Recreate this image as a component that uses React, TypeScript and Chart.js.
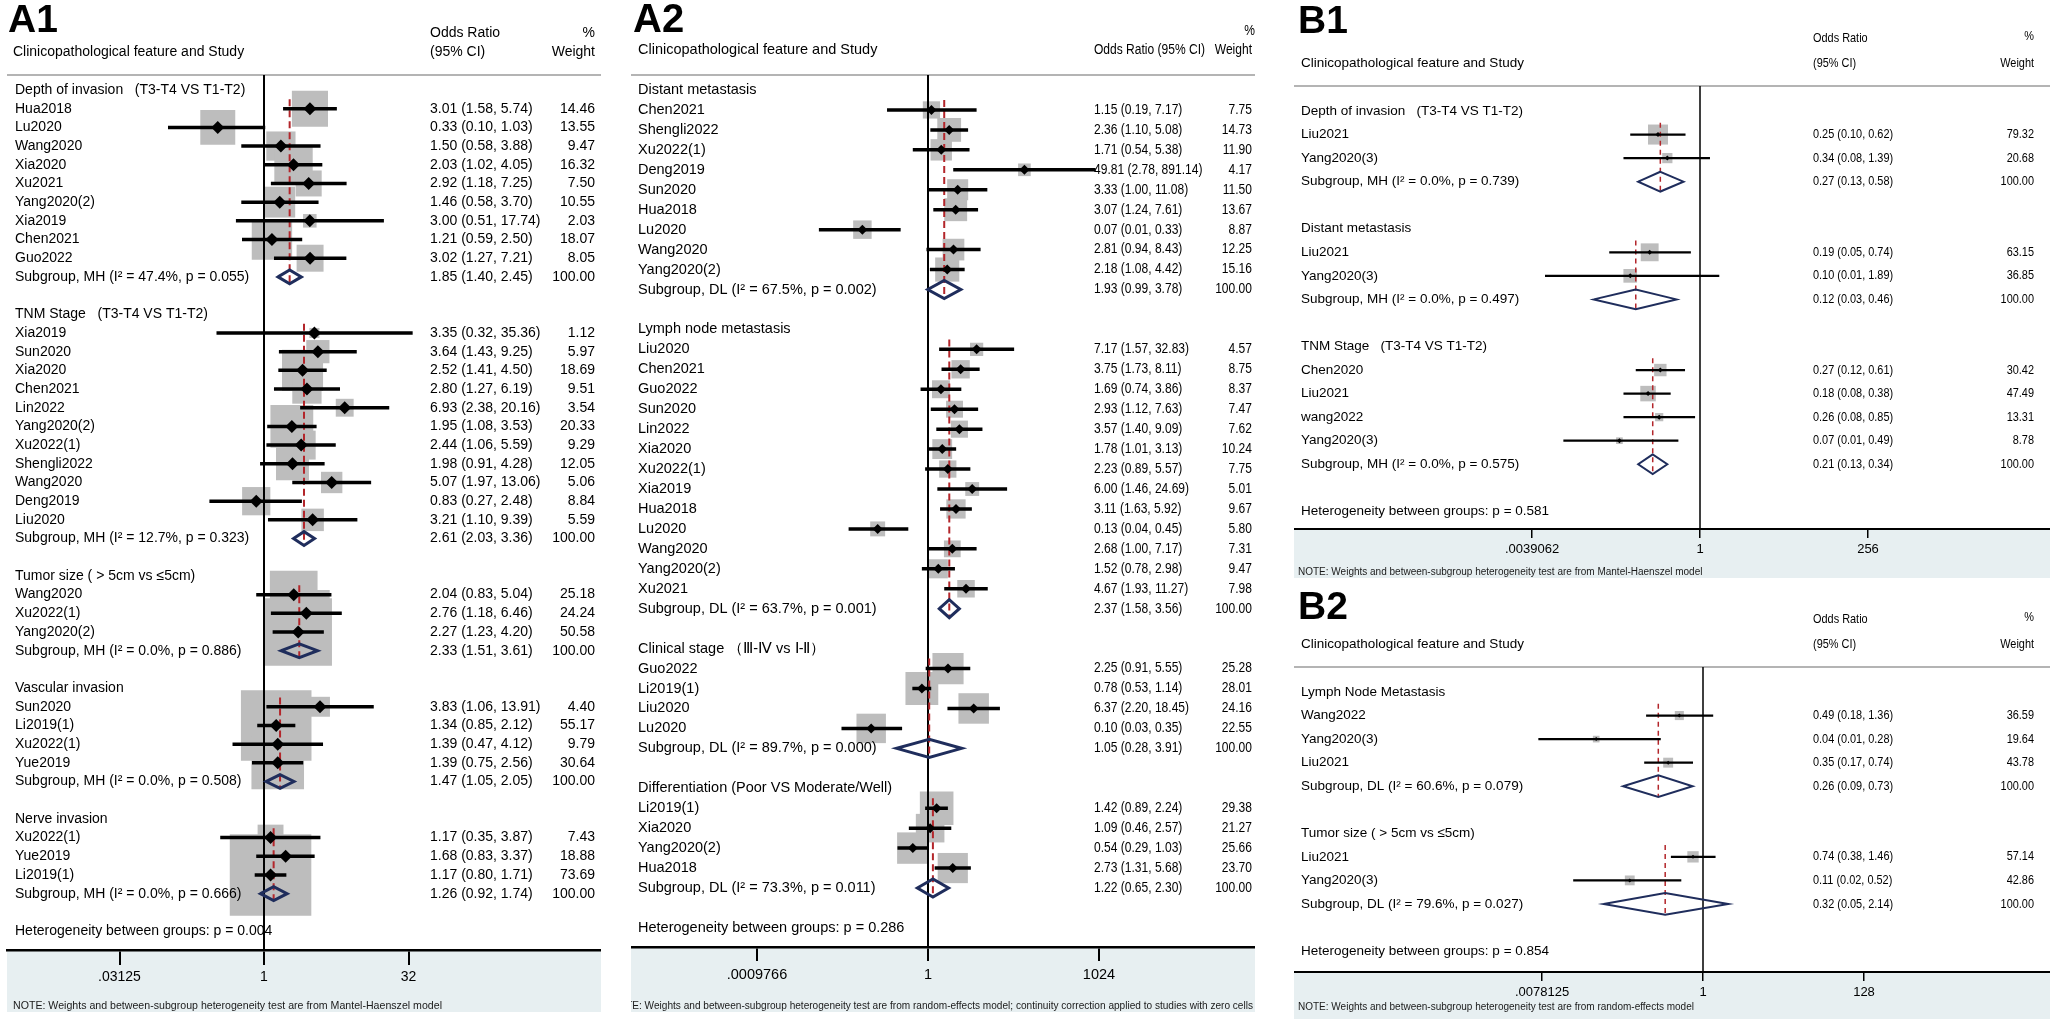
import React, { useEffect, useRef } from 'react';
import { Chart, registerables } from 'chart.js';

Chart.register(...registerables);

const FONT = '"Liberation Sans", Arial, Helvetica, sans-serif';
const BOX = '#bdbdbd';
const RED = '#b3262b';
const NAVY = '#1f2d5c';
const STRIP = '#e7eff1';
const SEP = '#b4b4b4';

// ---------------- A1 ----------------
const A1_HEAD = ['Clinicopathological feature and Study', 'Odds Ratio', '(95% CI)', '%', 'Weight'];
const A1_GROUPS = ['Depth of invasion   (T3-T4 VS T1-T2)', 'TNM Stage   (T3-T4 VS T1-T2)', 'Tumor size ( > 5cm vs ≤5cm)', 'Vascular invasion', 'Nerve invasion'];
const A1_STUDIES = [
  ['Hua2018', 'Lu2020', 'Wang2020', 'Xia2020', 'Xu2021', 'Yang2020(2)', 'Xia2019', 'Chen2021', 'Guo2022'],
  ['Xia2019', 'Sun2020', 'Xia2020', 'Chen2021', 'Lin2022', 'Yang2020(2)', 'Xu2022(1)', 'Shengli2022', 'Wang2020', 'Deng2019', 'Liu2020'],
  ['Wang2020', 'Xu2022(1)', 'Yang2020(2)'],
  ['Sun2020', 'Li2019(1)', 'Xu2022(1)', 'Yue2019'],
  ['Xu2022(1)', 'Yue2019', 'Li2019(1)'],
];
const A1_OR = [
  [3.01, 0.33, 1.50, 2.03, 2.92, 1.46, 3.00, 1.21, 3.02],
  [3.35, 3.64, 2.52, 2.80, 6.93, 1.95, 2.44, 1.98, 5.07, 0.83, 3.21],
  [2.04, 2.76, 2.27],
  [3.83, 1.34, 1.39, 1.39],
  [1.17, 1.68, 1.17],
];
const A1_LO = [
  [1.58, 0.10, 0.58, 1.02, 1.18, 0.58, 0.51, 0.59, 1.27],
  [0.32, 1.43, 1.41, 1.27, 2.38, 1.08, 1.06, 0.91, 1.97, 0.27, 1.10],
  [0.83, 1.18, 1.23],
  [1.06, 0.85, 0.47, 0.75],
  [0.35, 0.83, 0.80],
];
const A1_HI = [
  [5.74, 1.03, 3.88, 4.05, 7.25, 3.70, 17.74, 2.50, 7.21],
  [35.36, 9.25, 4.50, 6.19, 20.16, 3.53, 5.59, 4.28, 13.06, 2.48, 9.39],
  [5.04, 6.46, 4.20],
  [13.91, 2.12, 4.12, 2.56],
  [3.87, 3.37, 1.71],
];
const A1_W = [
  [14.46, 13.55, 9.47, 16.32, 7.50, 10.55, 2.03, 18.07, 8.05],
  [1.12, 5.97, 18.69, 9.51, 3.54, 20.33, 9.29, 12.05, 5.06, 8.84, 5.59],
  [25.18, 24.24, 50.58],
  [4.40, 55.17, 9.79, 30.64],
  [7.43, 18.88, 73.69],
];
const A1_SUB_LABELS = [
  'Subgroup, MH (I² = 47.4%, p = 0.055)',
  'Subgroup, MH (I² = 12.7%, p = 0.323)',
  'Subgroup, MH (I² = 0.0%, p = 0.886)',
  'Subgroup, MH (I² = 0.0%, p = 0.508)',
  'Subgroup, MH (I² = 0.0%, p = 0.666)',
];
const A1_SUB_OR = [1.85, 2.61, 2.33, 1.47, 1.26];
const A1_SUB_LO = [1.40, 2.03, 1.51, 1.05, 0.92];
const A1_SUB_HI = [2.45, 3.36, 3.61, 2.05, 1.74];
const A1_HET = 'Heterogeneity between groups: p = 0.004';
const A1_TICKS = [0.03125, 1, 32];
const A1_TICK_LABELS = ['.03125', '1', '32'];
const A1_NOTE = 'NOTE: Weights and between-subgroup heterogeneity test are from Mantel-Haenszel model';

// ---------------- A2 ----------------
const A2_HEAD = ['Clinicopathological feature and Study', 'Odds Ratio (95% CI)', '', '%', 'Weight'];
const A2_GROUPS = ['Distant metastasis', 'Lymph node metastasis', 'Clinical stage （Ⅲ-Ⅳ vs Ⅰ-Ⅱ）', 'Differentiation (Poor VS Moderate/Well)'];
const A2_STUDIES = [
  ['Chen2021', 'Shengli2022', 'Xu2022(1)', 'Deng2019', 'Sun2020', 'Hua2018', 'Lu2020', 'Wang2020', 'Yang2020(2)'],
  ['Liu2020', 'Chen2021', 'Guo2022', 'Sun2020', 'Lin2022', 'Xia2020', 'Xu2022(1)', 'Xia2019', 'Hua2018', 'Lu2020', 'Wang2020', 'Yang2020(2)', 'Xu2021'],
  ['Guo2022', 'Li2019(1)', 'Liu2020', 'Lu2020'],
  ['Li2019(1)', 'Xia2020', 'Yang2020(2)', 'Hua2018'],
];
const A2_OR = [
  [1.15, 2.36, 1.71, 49.81, 3.33, 3.07, 0.07, 2.81, 2.18],
  [7.17, 3.75, 1.69, 2.93, 3.57, 1.78, 2.23, 6.00, 3.11, 0.13, 2.68, 1.52, 4.67],
  [2.25, 0.78, 6.37, 0.10],
  [1.42, 1.09, 0.54, 2.73],
];
const A2_LO = [
  [0.19, 1.10, 0.54, 2.78, 1.00, 1.24, 0.012, 0.94, 1.08],
  [1.57, 1.73, 0.74, 1.12, 1.40, 1.01, 0.89, 1.46, 1.63, 0.04, 1.00, 0.78, 1.93],
  [0.91, 0.53, 2.20, 0.03],
  [0.89, 0.46, 0.29, 1.31],
];
const A2_HI = [
  [7.17, 5.08, 5.38, 891.14, 11.08, 7.61, 0.33, 8.43, 4.42],
  [32.83, 8.11, 3.86, 7.63, 9.09, 3.13, 5.57, 24.69, 5.92, 0.45, 7.17, 2.98, 11.27],
  [5.55, 1.14, 18.45, 0.35],
  [2.24, 2.57, 1.03, 5.68],
];
const A2_W = [
  [7.75, 14.73, 11.90, 4.17, 11.50, 13.67, 8.87, 12.25, 15.16],
  [4.57, 8.75, 8.37, 7.47, 7.62, 10.24, 7.75, 5.01, 9.67, 5.80, 7.31, 9.47, 7.98],
  [25.28, 28.01, 24.16, 22.55],
  [29.38, 21.27, 25.66, 23.70],
];
const A2_SUB_LABELS = [
  'Subgroup, DL (I² = 67.5%, p = 0.002)',
  'Subgroup, DL (I² = 63.7%, p = 0.001)',
  'Subgroup, DL (I² = 89.7%, p = 0.000)',
  'Subgroup, DL (I² = 73.3%, p = 0.011)',
];
const A2_SUB_OR = [1.93, 2.37, 1.05, 1.22];
const A2_SUB_LO = [0.99, 1.58, 0.28, 0.65];
const A2_SUB_HI = [3.78, 3.56, 3.91, 2.30];
const A2_HET = 'Heterogeneity between groups: p = 0.286';
const A2_TICKS = [0.0009766, 1, 1024];
const A2_TICK_LABELS = ['.0009766', '1', '1024'];
const A2_NOTE = 'NOTE: Weights and between-subgroup heterogeneity test are from random-effects model; continuity correction applied to studies with zero cells';

// ---------------- B1 ----------------
const B1_HEAD = ['Clinicopathological feature and Study', 'Odds Ratio', '(95% CI)', '%', 'Weight'];
const B1_GROUPS = ['Depth of invasion   (T3-T4 VS T1-T2)', 'Distant metastasis', 'TNM Stage   (T3-T4 VS T1-T2)'];
const B1_STUDIES = [
  ['Liu2021', 'Yang2020(3)'],
  ['Liu2021', 'Yang2020(3)'],
  ['Chen2020', 'Liu2021', 'wang2022', 'Yang2020(3)'],
];
const B1_OR = [[0.25, 0.34], [0.19, 0.10], [0.27, 0.18, 0.26, 0.07]];
const B1_LO = [[0.10, 0.08], [0.05, 0.006], [0.12, 0.08, 0.08, 0.011]];
const B1_HI = [[0.62, 1.39], [0.74, 1.89], [0.61, 0.38, 0.85, 0.49]];
const B1_W = [[79.32, 20.68], [63.15, 36.85], [30.42, 47.49, 13.31, 8.78]];
const B1_SUB_LABELS = [
  'Subgroup, MH (I² = 0.0%, p = 0.739)',
  'Subgroup, MH (I² = 0.0%, p = 0.497)',
  'Subgroup, MH (I² = 0.0%, p = 0.575)',
];
const B1_SUB_OR = [0.27, 0.12, 0.21];
const B1_SUB_LO = [0.13, 0.03, 0.13];
const B1_SUB_HI = [0.58, 0.46, 0.34];
const B1_HET = 'Heterogeneity between groups: p = 0.581';
const B1_TICKS = [0.0039062, 1, 256];
const B1_TICK_LABELS = ['.0039062', '1', '256'];
const B1_NOTE = 'NOTE: Weights and between-subgroup heterogeneity test are from Mantel-Haenszel model';

// ---------------- B2 ----------------
const B2_HEAD = ['Clinicopathological feature and Study', 'Odds Ratio', '(95% CI)', '%', 'Weight'];
const B2_GROUPS = ['Lymph Node Metastasis', 'Tumor size ( > 5cm vs ≤5cm)'];
const B2_STUDIES = [['Wang2022', 'Yang2020(3)', 'Liu2021'], ['Liu2021', 'Yang2020(3)']];
const B2_OR = [[0.49, 0.04, 0.35], [0.74, 0.11]];
const B2_LO = [[0.18, 0.007, 0.17], [0.38, 0.02]];
const B2_HI = [[1.36, 0.28, 0.74], [1.46, 0.52]];
const B2_W = [[36.59, 19.64, 43.78], [57.14, 42.86]];
const B2_SUB_LABELS = ['Subgroup, DL (I² = 60.6%, p = 0.079)', 'Subgroup, DL (I² = 79.6%, p = 0.027)'];
const B2_SUB_OR = [0.26, 0.32];
const B2_SUB_LO = [0.09, 0.05];
const B2_SUB_HI = [0.73, 2.14];
const B2_HET = 'Heterogeneity between groups: p = 0.854';
const B2_TICKS = [0.0078125, 1, 128];
const B2_TICK_LABELS = ['.0078125', '1', '128'];
const B2_NOTE = 'NOTE: Weights and between-subgroup heterogeneity test are from random-effects model';

type PanelData = {
  title: string; head: string[]; groups: string[]; studies: string[][];
  or: number[][]; lo: number[][]; hi: number[][]; w: number[][];
  subLabels: string[]; subOr: number[]; subLo: number[]; subHi: number[];
  het: string; ticks: number[]; tickLabels: string[]; note: string;
};

const mk = (title: string, head: string[], groups: string[], studies: string[][], or: number[][], lo: number[][], hi: number[][], w: number[][],
  subLabels: string[], subOr: number[], subLo: number[], subHi: number[], het: string, ticks: number[], tickLabels: string[], note: string): PanelData =>
  ({ title, head, groups, studies, or, lo, hi, w, subLabels, subOr, subLo, subHi, het, ticks, tickLabels, note });

const DATA_A1 = mk('A1', A1_HEAD, A1_GROUPS, A1_STUDIES, A1_OR, A1_LO, A1_HI, A1_W, A1_SUB_LABELS, A1_SUB_OR, A1_SUB_LO, A1_SUB_HI, A1_HET, A1_TICKS, A1_TICK_LABELS, A1_NOTE);
const DATA_A2 = mk('A2', A2_HEAD, A2_GROUPS, A2_STUDIES, A2_OR, A2_LO, A2_HI, A2_W, A2_SUB_LABELS, A2_SUB_OR, A2_SUB_LO, A2_SUB_HI, A2_HET, A2_TICKS, A2_TICK_LABELS, A2_NOTE);
const DATA_B1 = mk('B1', B1_HEAD, B1_GROUPS, B1_STUDIES, B1_OR, B1_LO, B1_HI, B1_W, B1_SUB_LABELS, B1_SUB_OR, B1_SUB_LO, B1_SUB_HI, B1_HET, B1_TICKS, B1_TICK_LABELS, B1_NOTE);
const DATA_B2 = mk('B2', B2_HEAD, B2_GROUPS, B2_STUDIES, B2_OR, B2_LO, B2_HI, B2_W, B2_SUB_LABELS, B2_SUB_OR, B2_SUB_LO, B2_SUB_HI, B2_HET, B2_TICKS, B2_TICK_LABELS, B2_NOTE);

type Layout = {
  left: number; top: number; width: number; height: number; padLeft: number; axisY: number;
  x1: number; k: number; row0: number; pitch: number; sepY: number;
  titleX: number; titleY: number; titleSize: number;
  headSize: number; headPos: [number, number, CanvasTextAlign][];
  labelX: number; labelSize: number; orX: number; wRight: number; colSize: number; colSx: number;
  noteX: number; noteY: number; noteSize: number; noteW: number; noteAlign: CanvasTextAlign;
  tickSize: number; tickLen: number; tickPad: number; tickW: number; axisW: number;
  boxK: number; ptR: number; ciW: number; refW: number; dH: number; dW: number; dashW: number; dash: number[];
};

const L_A1: Layout = {
  left: 0, top: 0, width: 601, height: 1012, padLeft: 7, axisY: 950, x1: 264, k: 28.9, row0: 90, pitch: 18.69, sepY: 75,
  titleX: 8, titleY: 35, titleSize: 39,
  headSize: 14, headPos: [[13, 52, 'left'], [430, 33, 'left'], [430, 52, 'left'], [595, 33, 'right'], [595, 52, 'right']],
  labelX: 15, labelSize: 14, orX: 430, wRight: 595, colSize: 14, colSx: 1,
  noteX: 13, noteY: 1006, noteSize: 11, noteW: 429, noteAlign: 'left',
  tickSize: 14, tickLen: 15, tickPad: 4, tickW: 2, axisW: 2.5,
  boxK: 9.5, ptR: 6.5, ciW: 3.5, refW: 2, dH: 0.37, dW: 3, dashW: 2, dash: [7, 4],
};
const L_A2: Layout = {
  left: 631, top: 0, width: 624, height: 1012, padLeft: 0, axisY: 947, x1: 297, k: 17.1, row0: 90, pitch: 19.95, sepY: 75,
  titleX: 2, titleY: 35, titleSize: 40,
  headSize: 14.5, headPos: [[7, 50, 'left'], [463, 50, 'left'], [463, 50, 'left'], [624, 31, 'right'], [621, 50, 'right']],
  labelX: 7, labelSize: 14.5, orX: 463, wRight: 621, colSize: 14, colSx: 0.86,
  noteX: 622, noteY: 1006, noteSize: 11, noteW: 642, noteAlign: 'right',
  tickSize: 14.5, tickLen: 14, tickPad: 5, tickW: 2, axisW: 2.5,
  boxK: 6.2, ptR: 5, ciW: 3.5, refW: 2, dH: 0.45, dW: 3, dashW: 2, dash: [7, 4],
};
const L_B1: Layout = {
  left: 1294, top: 0, width: 756, height: 578, padLeft: 0, axisY: 529, x1: 406, k: 21, row0: 111, pitch: 23.55, sepY: 86,
  titleX: 4, titleY: 36, titleSize: 39,
  headSize: 13.5, headPos: [[7, 63, 'left'], [519, 38, 'left'], [519, 63, 'left'], [740, 36, 'right'], [740, 63, 'right']],
  labelX: 7, labelSize: 13.5, orX: 519, wRight: 740, colSize: 13, colSx: 0.84,
  noteX: 4, noteY: 572, noteSize: 10, noteW: 500, noteAlign: 'left',
  tickSize: 13, tickLen: 9, tickPad: 4, tickW: 1.5, axisW: 2,
  boxK: 2.25, ptR: 2.5, ciW: 2.3, refW: 1.5, dH: 0.42, dW: 2, dashW: 1.5, dash: [5, 4],
};
const L_B2: Layout = {
  ...L_B1, top: 581, height: 438, axisY: 391, x1: 409, k: 23, noteY: 426, titleY: 41,
  boxK: 1.5, ptR: 2, dH: 0.46,
};

type Row = { kind: 'group' | 'study' | 'sub' | 'het'; label: string; r: number; or: number; lo: number; hi: number; w: number; first: number };

function buildRows(d: PanelData): Row[] {
  const rows: Row[] = [];
  let r = 0;
  d.groups.forEach((g, gi) => {
    rows.push({ kind: 'group', label: g, r: r++, or: NaN, lo: NaN, hi: NaN, w: NaN, first: 0 });
    const first = r;
    d.studies[gi].forEach((s, si) => {
      rows.push({ kind: 'study', label: s, r: r++, or: d.or[gi][si], lo: d.lo[gi][si], hi: d.hi[gi][si], w: d.w[gi][si], first });
    });
    rows.push({ kind: 'sub', label: d.subLabels[gi], r: r++, or: d.subOr[gi], lo: d.subLo[gi], hi: d.subHi[gi], w: 100, first });
    r++;
  });
  rows.push({ kind: 'het', label: d.het, r, or: NaN, lo: NaN, hi: NaN, w: NaN, first: 0 });
  return rows;
}

const f2 = (v: number) => v.toFixed(2);

function drawText(ctx: CanvasRenderingContext2D, s: string, x: number, y: number, font: string, align: CanvasTextAlign = 'left', sx = 1, color = '#000', maxW?: number) {
  if (!s) return;
  ctx.save();
  ctx.font = font;
  ctx.fillStyle = color;
  ctx.textAlign = align;
  ctx.textBaseline = 'middle';
  ctx.translate(x, y);
  ctx.scale(sx, 1);
  if (maxW) ctx.fillText(s, 0, 0, maxW); else ctx.fillText(s, 0, 0);
  ctx.restore();
}

function ForestPanel({ data, layout }: { data: PanelData; layout: Layout }) {
  const ref = useRef<HTMLCanvasElement>(null);
  useEffect(() => {
    const canvas = ref.current;
    if (!canvas) return;
    const L = layout;
    const D = data;
    const rows = buildRows(D);
    const lg = Math.log2;
    const xMin = (L.padLeft - L.x1) / L.k;
    const xMax = (L.width - L.x1) / L.k;
    const yMin = -L.row0 / L.pitch;
    const yMax = (L.axisY - L.row0) / L.pitch;
    const sepRow = (L.sepY - L.row0) / L.pitch;
    const studies = rows.filter((r) => r.kind === 'study');
    const subs = rows.filter((r) => r.kind === 'sub');
    const gap = () => ({ x: null as any, y: null as any });
    const ci = studies.flatMap((s) => [{ x: lg(s.lo), y: s.r }, { x: lg(s.hi), y: s.r }, gap()]);
    const diamonds = subs.flatMap((s) => [
      { x: lg(s.lo), y: s.r }, { x: lg(s.or), y: s.r - L.dH }, { x: lg(s.hi), y: s.r },
      { x: lg(s.or), y: s.r + L.dH }, { x: lg(s.lo), y: s.r }, { x: lg(s.or), y: s.r - L.dH }, gap(),
    ]);
    const dashes = subs.flatMap((s) => [{ x: lg(s.or), y: s.first - 0.5 }, { x: lg(s.or), y: s.r + L.dH }, gap()]);
    const pts = studies.map((s) => ({ x: lg(s.or), y: s.r }));
    const tickVals = D.ticks.map((t) => lg(t));

    const plugin = {
      id: 'forestDecor',
      beforeDraw(chart: any) {
        const { ctx, chartArea, width, height } = chart;
        ctx.save();
        ctx.fillStyle = '#fff';
        ctx.fillRect(0, 0, width, height);
        ctx.fillStyle = STRIP;
        ctx.fillRect(chartArea.left, chartArea.bottom, chartArea.right - chartArea.left, height - chartArea.bottom);
        const sy = chart.scales.y.getPixelForValue(sepRow);
        ctx.strokeStyle = SEP;
        ctx.lineWidth = 2;
        ctx.beginPath();
        ctx.moveTo(chartArea.left, sy);
        ctx.lineTo(chartArea.right, sy);
        ctx.stroke();
        ctx.restore();
      },
      afterDraw(chart: any) {
        const { ctx } = chart;
        const ys = chart.scales.y;
        const lf = `${L.labelSize}px ${FONT}`;
        const cf = `${L.colSize}px ${FONT}`;
        const hf = `${L.headSize}px ${FONT}`;
        drawText(ctx, D.title, L.titleX, L.titleY - L.titleSize * 0.36, `bold ${L.titleSize}px ${FONT}`);
        D.head.forEach((h, i) => {
          const [x, y, a] = L.headPos[i];
          drawText(ctx, h, x, y, i === 0 ? hf : cf, a, i === 0 ? 1 : L.colSx);
        });
        rows.forEach((row) => {
          const y = ys.getPixelForValue(row.r);
          drawText(ctx, row.label, L.labelX, y, lf);
          if (row.kind === 'study' || row.kind === 'sub') {
            drawText(ctx, `${f2(row.or)} (${f2(row.lo)}, ${f2(row.hi)})`, L.orX, y, cf, 'left', L.colSx);
            drawText(ctx, f2(row.w), L.wRight, y, cf, 'right', L.colSx);
          }
        });
        drawText(ctx, D.note, L.noteX, L.noteY, `${L.noteSize}px ${FONT}`, L.noteAlign, 1, '#1a1a1a', L.noteW);
      },
    };

    const chart = new Chart(canvas, {
      type: 'scatter',
      data: {
        datasets: [
          { label: 'Subgroup estimate', data: diamonds, showLine: true, borderColor: NAVY, borderWidth: L.dW, pointRadius: 0, borderJoinStyle: 'miter', fill: false, order: 1 } as any,
          { label: 'Study estimate', data: pts, pointStyle: 'rectRot', pointRadius: L.ptR, backgroundColor: '#000', borderWidth: 0, order: 2 } as any,
          { label: '95% CI', data: ci, showLine: true, borderColor: '#000', borderWidth: L.ciW, pointRadius: 0, borderCapStyle: 'butt', fill: false, order: 3 } as any,
          { label: 'Pooled', data: dashes, showLine: true, borderColor: RED, borderWidth: L.dashW, borderDash: L.dash, pointRadius: 0, fill: false, order: 4 } as any,
          { label: 'No effect', data: [{ x: 0, y: sepRow }, { x: 0, y: yMax }], showLine: true, borderColor: '#000', borderWidth: L.refW, pointRadius: 0, fill: false, order: 5 } as any,
          { label: 'Weight', data: pts, pointStyle: 'rect', pointRadius: studies.map((s) => (L.boxK * Math.sqrt(s.w)) / Math.SQRT2), backgroundColor: BOX, borderWidth: 0, order: 6 } as any,
        ],
      },
      options: {
        responsive: false,
        maintainAspectRatio: false,
        animation: false,
        events: [],
        layout: { autoPadding: false, padding: { left: L.padLeft, right: 0, top: 0, bottom: 0 } },
        plugins: { legend: { display: false }, tooltip: { enabled: false }, title: { display: false } },
        scales: {
          x: {
            type: 'linear', min: xMin, max: xMax, position: 'bottom', bounds: 'data',
            afterFit: (s: any) => { s.height = L.height - L.axisY; },
            afterBuildTicks: (s: any) => { s.ticks = tickVals.map((v) => ({ value: v })); },
            ticks: {
              autoSkip: false, maxRotation: 0, minRotation: 0, padding: L.tickPad, color: '#000',
              font: { family: FONT, size: L.tickSize },
              callback: (_v: any, i: number) => D.tickLabels[i],
            },
            grid: { drawOnChartArea: false, drawTicks: true, tickLength: L.tickLen, color: '#000', lineWidth: L.tickW },
            border: { display: true, color: '#000', width: L.axisW },
          },
          y: { type: 'linear', min: yMin, max: yMax, reverse: true, display: false, bounds: 'data' },
        },
      } as any,
      plugins: [plugin],
    });
    return () => chart.destroy();
  }, [data, layout]);
  return (
    <canvas
      ref={ref}
      width={layout.width}
      height={layout.height}
      style={{ position: 'absolute', left: layout.left, top: layout.top, width: layout.width, height: layout.height }}
    />
  );
}

export default function App() {
  useEffect(() => {
    document.body.style.margin = '0';
    document.body.style.overflow = 'hidden';
  }, []);
  return (
    <div style={{ position: 'absolute', left: 0, top: 0, width: 2050, height: 1019, background: '#fff', overflow: 'hidden' }}>
      <ForestPanel data={DATA_A1} layout={L_A1} />
      <ForestPanel data={DATA_A2} layout={L_A2} />
      <ForestPanel data={DATA_B1} layout={L_B1} />
      <ForestPanel data={DATA_B2} layout={L_B2} />
    </div>
  );
}
